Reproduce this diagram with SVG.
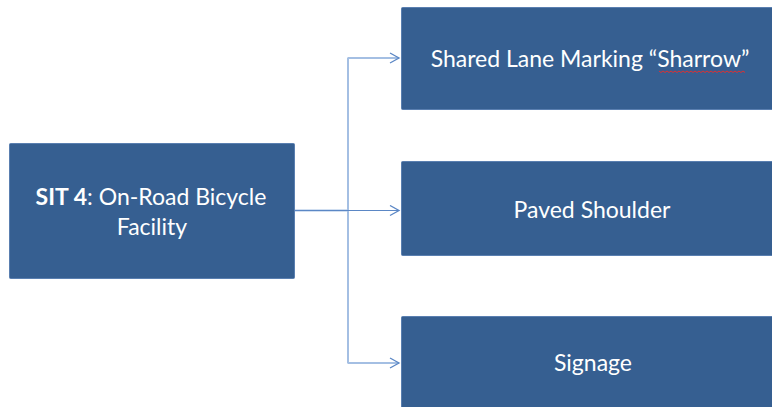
<svg xmlns="http://www.w3.org/2000/svg" width="772" height="407" viewBox="0 0 772 407">
<style>
.box{fill:#365f91;stroke:#5a7fb0;stroke-width:1}
.t{font-family:Lato,"Open Sans","Liberation Sans",sans-serif;font-size:23px;fill:#ffffff;text-anchor:middle}
.c{fill:none;stroke:#a4bfe3;stroke-width:2}
.cd{fill:none;stroke:#5b87c5;stroke-width:1.2}
</style>
<defs>
<marker id="ah" markerWidth="12" markerHeight="12" refX="10" refY="6" orient="auto" markerUnits="userSpaceOnUse">
<path d="M1,1 L10,6 L1,11" fill="none" stroke="#5b87c5" stroke-width="1.3"/>
</marker>
</defs>
<g id="connectors">
<path class="c" d="M348,57.5 V363.5"/>
<path class="c" stroke-width="3.5" d="M295,210.5 H348"/>
<path class="c" d="M348,58 H399" marker-end="url(#ah)"/>
<path class="c" d="M348,363 H399" marker-end="url(#ah)"/>
<path class="cd" d="M295,210.5 H399" marker-end="url(#ah)"/>
</g>
<g id="node-root">
<rect class="box" x="9.5" y="143.5" width="285" height="135" rx="1"/>
<text class="t" x="151" y="205"><tspan font-weight="bold">SIT 4</tspan>: On-Road Bicycle</text>
<text class="t" x="152" y="235">Facility</text>
</g>
<g id="node-sharrow">
<rect class="box" x="401.5" y="7.5" width="380" height="102" rx="1"/>
<text class="t" x="590" y="67">Shared Lane Marking “Sharrow”</text>
<path d="M659,71 l2,1.5 l2,-1.5 l2,1.5 l2,-1.5 l2,1.5 l2,-1.5 l2,1.5 l2,-1.5 l2,1.5 l2,-1.5 l2,1.5 l2,-1.5 l2,1.5 l2,-1.5 l2,1.5 l2,-1.5 l2,1.5 l2,-1.5 l2,1.5 l2,-1.5 l2,1.5 l2,-1.5 l2,1.5 l2,-1.5 l2,1.5 l2,-1.5 l2,1.5 l2,-1.5 l2,1.5 l2,-1.5 l2,1.5 l2,-1.5 l2,1.5 l2,-1.5 l2,1.5 l2,-1.5 l2,1.5 l2,-1.5 l2,1.5 l2,-1.5 l2,1.5 l2,-1.5 l2,1.5" fill="none" stroke="#e03030" stroke-width="1"/>
</g>
<g id="node-shoulder">
<rect class="box" x="401.5" y="161.5" width="380" height="94" rx="1"/>
<text class="t" x="592" y="218">Paved Shoulder</text>
</g>
<g id="node-signage">
<rect class="box" x="401.5" y="316.5" width="380" height="100" rx="1"/>
<text class="t" x="593" y="371">Signage</text>
</g>
</svg>
